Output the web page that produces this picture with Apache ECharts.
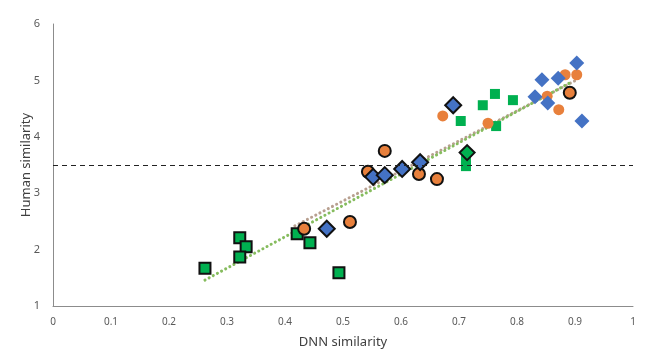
<!DOCTYPE html>
<html>
<head>
<meta charset="utf-8">
<script src="https://cdn.jsdelivr.net/npm/echarts@6/dist/echarts.min.js"></script>
<style>html,body{margin:0;padding:0;background:#fff}#c{width:647px;height:355px}</style>
</head>
<body>
<div id="c"></div>
<script>
// [DNN similarity, Human similarity]
var greenBordered = [[0.262,1.67],[0.322,2.21],[0.333,2.05],[0.322,1.87],[0.421,2.28],[0.443,2.12],[0.493,1.59]];
var greenPlain = [[0.712,3.59],[0.712,3.48],[0.703,4.28],[0.741,4.56],[0.762,4.76],[0.793,4.65],[0.764,4.19]];
var greenDiamondBordered = [[0.714,3.72]];
var orangeBordered = [[0.433,2.37],[0.512,2.49],[0.572,3.75],[0.543,3.38],[0.631,3.34],[0.662,3.25],[0.891,4.78]];
var orangePlain = [[0.672,4.37],[0.750,4.24],[0.883,5.10],[0.903,5.10],[0.852,4.72],[0.872,4.48]];
var blueBordered = [[0.472,2.37],[0.552,3.29],[0.572,3.32],[0.602,3.43],[0.633,3.55],[0.690,4.56]];
var bluePlain = [[0.903,5.31],[0.843,5.01],[0.871,5.04],[0.831,4.71],[0.853,4.60],[0.912,4.28]];
var greenTrend = [[0.262,1.46],[0.890,4.95]];
var orangeTrend = [[0.417,2.42],[0.905,5.02]];
var threshold = 3.5;
var xTicks = {min:0, max:1, interval:0.1};
var yTicks = {min:1, max:6, interval:1};

var GREEN = '#00B050', ORANGE = '#E8803C', BLUE = '#4472C4';
function sc(data, symbol, size, color, border, z) {
  return {
    type:'scatter', data:data, symbol:symbol, symbolSize:size, z:z||3,
    itemStyle:{color:color, borderColor:border?'#111':color, borderWidth:border?2:0, opacity:1},
    emphasis:{disabled:true}, silent:true
  };
}
function trend(data, color) {
  return {
    type:'line', data:data, symbol:'none', z:2, silent:true,
    lineStyle:{color:color, width:3, type:[0.1,4.6], cap:'round'}
  };
}
var chart = echarts.init(document.getElementById('c'), null, {renderer:'canvas'});
chart.setOption({
  animation:false,
  grid:{left:53, right:14, top:24, bottom:49},
  textStyle:{fontFamily:'Noto Sans'},
  xAxis:{
    type:'value', min:xTicks.min, max:xTicks.max, interval:xTicks.interval,
    name:'DNN similarity', nameLocation:'middle', nameGap:30,
    nameTextStyle:{fontSize:13, color:'#404040'},
    axisLine:{show:true, lineStyle:{color:'#8c8c8c', width:1}},
    axisTick:{show:false}, splitLine:{show:false},
    axisLabel:{fontSize:10, color:'#595959', margin:11}
  },
  yAxis:{
    type:'value', min:yTicks.min, max:yTicks.max, interval:yTicks.interval,
    name:'Human similarity', nameLocation:'middle', nameGap:20, nameMoveOverlap:false,
    nameTextStyle:{fontSize:13, color:'#404040'},
    axisLine:{show:true, lineStyle:{color:'#8c8c8c', width:1}},
    axisTick:{show:false}, splitLine:{show:false},
    axisLabel:{fontSize:11, color:'#595959', margin:13}
  },
  series:[
    {type:'line', data:[], silent:true,
     markLine:{silent:true, symbol:'none', label:{show:false},
       lineStyle:{color:'#222', type:[5,4], width:1.2},
       data:[{yAxis:threshold}]}},
    sc(greenPlain,'rect',10,GREEN,false,3),
    sc(orangePlain,'circle',11,ORANGE,false,3),
    sc(bluePlain,'diamond',[15,15],BLUE,false,3),
    trend(orangeTrend,'#B8A090'),
    trend(greenTrend,'#86BC5E'),
    sc(greenBordered,'rect',11,GREEN,true,4),
    sc(orangeBordered,'circle',12,ORANGE,true,4),
    sc(blueBordered,'diamond',[16,16],BLUE,true,4),
    sc(greenDiamondBordered,'diamond',[15,15],GREEN,true,4)
  ]
});
</script>
</body>
</html>
